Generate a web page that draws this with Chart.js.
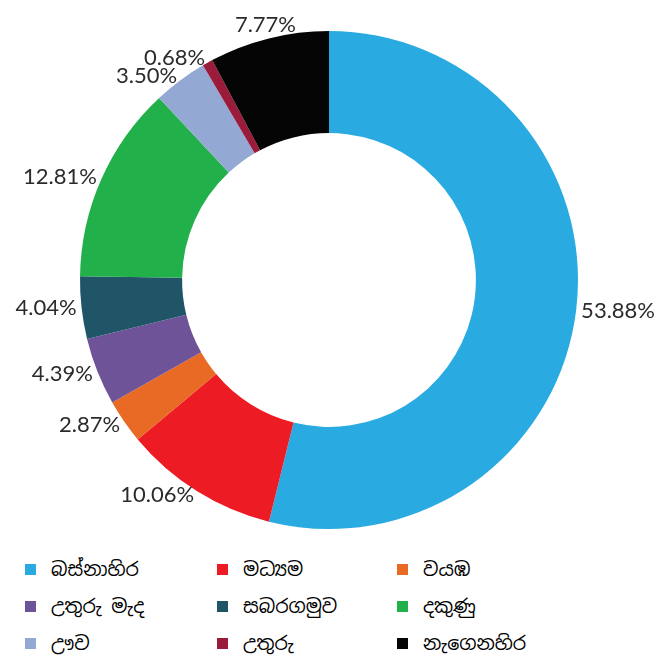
<!DOCTYPE html>
<html>
<head>
<meta charset="utf-8">
<script src="https://cdn.jsdelivr.net/npm/chart.js@4.4.1/dist/chart.umd.min.js"></script>
<style>
  body { margin: 0; background: #fff; width: 662px; height: 655px; overflow: hidden; }
  #wrap { position: relative; width: 662px; height: 545px; }
  #legend {
    display: grid;
    grid-template-columns: 192px 180px 200px;
    row-gap: 11px;
    padding-left: 25px;
    margin-top: 11px;
    font-family: "Noto Sans Sinhala", "Noto Sans", sans-serif;
    font-size: 19px;
    color: #000;
  }
  .item { display: flex; align-items: center; height: 26px; }
  .box { width: 11px; height: 11px; margin-right: 15px; flex: none; }
</style>
</head>
<body>
<div id="wrap"><canvas id="myChart"></canvas></div>
<div id="legend"></div>
<script>
// Provinces, clockwise from 12 o'clock
const provinces = ['බස්නාහිර', 'මධ්‍යම', 'වයඹ', 'උතුරු මැද', 'සබරගමුව', 'දකුණු', 'ඌව', 'උතුරු', 'නැගෙනහිර'];
const shares = [53.88, 10.06, 2.87, 4.39, 4.04, 12.81, 3.50, 0.68, 7.77];
const colors = ['#29abe2', '#ed1c24', '#e86a24', '#6e5398', '#1f5566', '#22b04b', '#93a9d3', '#9b1b3b', '#050505'];

// percent labels outside the ring
const outsideLabels = {
    id: 'outsideLabels',
    afterDatasetsDraw(chart) {
        const ctx = chart.ctx;
        const meta = chart.getDatasetMeta(0);
        ctx.save();
        ctx.font = '22px Lato, "Open Sans", sans-serif';
        ctx.fillStyle = '#2b2b2b';
        ctx.textBaseline = 'middle';
        meta.data.forEach((arc, i) => {
            const p = arc.getProps(['x', 'y', 'startAngle', 'endAngle', 'outerRadius'], true);
            const mid = (p.startAngle + p.endAngle) / 2;
            const c = Math.cos(mid);
            let r = p.outerRadius + 5;
            let align = c > 0 ? 'left' : 'right';
            if (Math.abs(c) < 0.3) {
                align = 'center';
                r = p.outerRadius + 14;
            }
            ctx.textAlign = align;
            ctx.fillText(shares[i].toFixed(2) + '%', p.x + c * r, p.y + Math.sin(mid) * r);
        });
        ctx.restore();
    }
};

new Chart(document.getElementById('myChart'), {
    type: 'doughnut',
    data: {
        labels: provinces,
        datasets: [{
            data: shares,
            backgroundColor: colors,
            borderWidth: 0
        }]
    },
    options: {
        responsive: true,
        maintainAspectRatio: false,
        animation: false,
        cutout: '59%',
        layout: { padding: { top: 31, bottom: 16, left: 80, right: 84 } },
        plugins: {
            legend: { display: false },
            tooltip: { enabled: false }
        }
    },
    plugins: [outsideLabels]
});

// legend in three columns
const legend = document.getElementById('legend');
provinces.forEach((name, i) => {
    const item = document.createElement('div');
    item.className = 'item';
    const box = document.createElement('span');
    box.className = 'box';
    box.style.background = colors[i];
    const txt = document.createElement('span');
    txt.textContent = name;
    item.appendChild(box);
    item.appendChild(txt);
    legend.appendChild(item);
});
</script>
</body>
</html>
